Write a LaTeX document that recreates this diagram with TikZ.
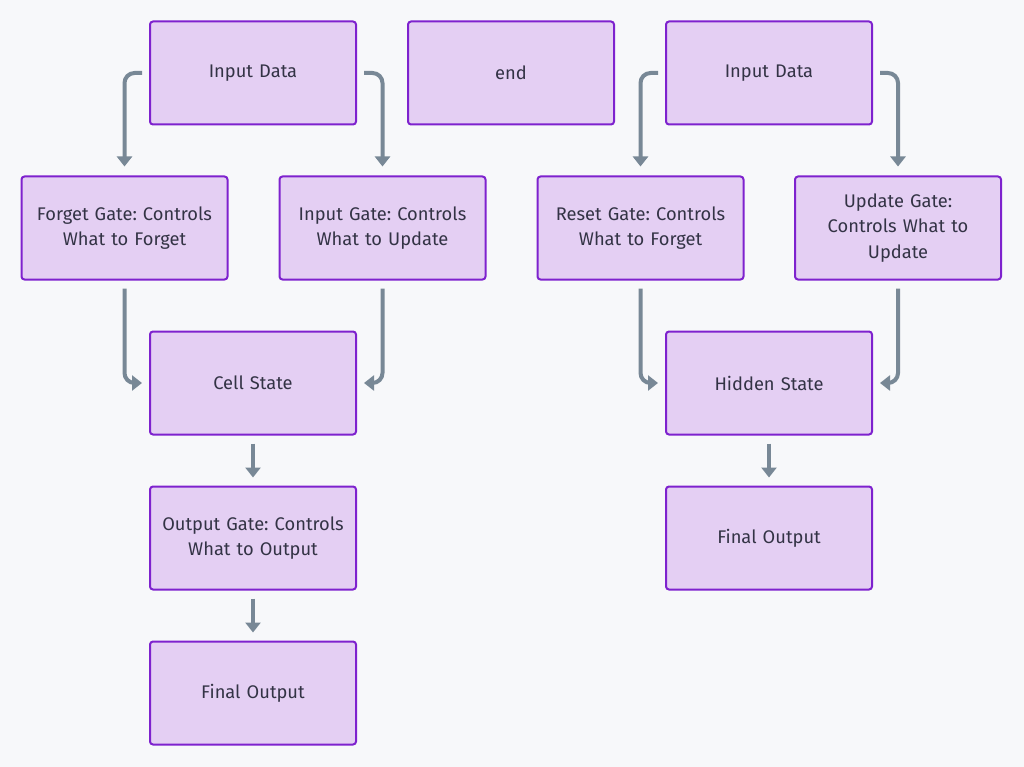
\documentclass[tikz,border=0pt]{standalone}
\usepackage{fontspec}
\setmainfont{Fira Sans}
\usetikzlibrary{arrows.meta}
\definecolor{bg}{HTML}{F7F8FA}
\definecolor{boxfill}{HTML}{E4CFF3}
\definecolor{boxline}{HTML}{7E22CE}
\definecolor{arrcol}{HTML}{788896}
\definecolor{txt}{HTML}{333345}
\tikzset{
  box/.style={draw=boxline, fill=boxfill, line width=2pt, rounded corners=3pt,
    minimum width=206pt, minimum height=103pt, text width=200pt, align=center,
    font=\fontsize{18.3}{25.5}\selectfont, text=txt, inner sep=0pt},
  arr/.style={draw=arrcol, line width=4pt, rounded corners=10pt,
    -{Triangle[length=10pt,width=15pt]}},
}
\frenchspacing
\begin{document}
\begin{tikzpicture}[x=1pt,y=-1pt]
\fill[bg] (0,0) rectangle (1024,767);
\useasboundingbox (0,0) rectangle (1024,767);
% left column (LSTM)
\node[box] (inL) at (253,73) {Input Data};
\node[box] (fg) at (124.5,228) {Forget Gate: Controls\\What to Forget};
\node[box] (ig) at (382.5,228) {Input Gate: Controls\\What to Update};
\node[box] (cs) at (253,383) {Cell State};
\node[box] (og) at (253,538) {Output Gate: Controls\\What to Output};
\node[box] (foL) at (253,693) {Final Output};
% middle
\node[box] (end) at (511,73) {end};
% right column (GRU)
\node[box] (inR) at (769,73) {Input Data};
\node[box] (rg) at (640.5,228) {Reset Gate: Controls\\What to Forget};
\node[box] (ug) at (898,228) {Update Gate:\\Controls What to\\Update};
\node[box] (hs) at (769,383) {Hidden State};
\node[box] (foR) at (769,538) {Final Output};
% connectors left
\draw[arr] ([xshift=-7pt]inL.west) -| ([yshift=9pt]fg.north);
\draw[arr] ([xshift=7pt]inL.east) -| ([yshift=9pt]ig.north);
\draw[arr] ([yshift=-8pt]fg.south) |- ([xshift=-7pt]cs.west);
\draw[arr] ([yshift=-8pt]ig.south) |- ([xshift=7pt]cs.east);
\draw[arr] ([yshift=-8pt]cs.south) -- ([yshift=8pt]og.north);
\draw[arr] ([yshift=-8pt]og.south) -- ([yshift=8pt]foL.north);
% connectors right
\draw[arr] ([xshift=-7pt]inR.west) -| ([yshift=9pt]rg.north);
\draw[arr] ([xshift=7pt]inR.east) -| ([yshift=9pt]ug.north);
\draw[arr] ([yshift=-8pt]rg.south) |- ([xshift=-7pt]hs.west);
\draw[arr] ([yshift=-8pt]ug.south) |- ([xshift=7pt]hs.east);
\draw[arr] ([yshift=-8pt]hs.south) -- ([yshift=8pt]foR.north);
\end{tikzpicture}
\end{document}
